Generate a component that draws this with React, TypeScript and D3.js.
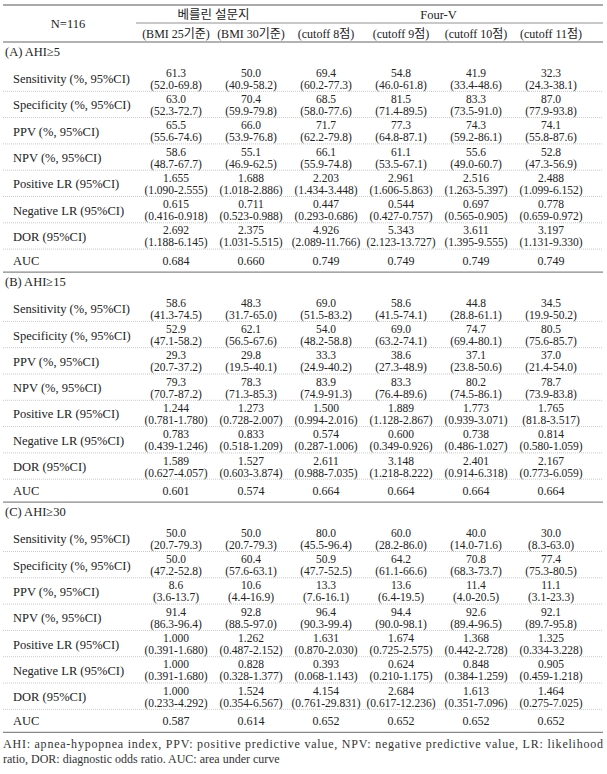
import React from "react";
import * as d3 from "d3";

// table content
const groupHeaders = ["베를린 설문지", "Four-V"];
const groupSpans = [[0, 1], [2, 5]];
const columnHeaders = ["(BMI 25기준)", "(BMI 30기준)", "(cutoff 8점)", "(cutoff 9점)", "(cutoff 10점)", "(cutoff 11점)"];
const rowLabels = [
  "Sensitivity (%, 95%CI)",
  "Specificity (%, 95%CI)",
  "PPV (%, 95%CI)",
  "NPV (%, 95%CI)",
  "Positive LR (95%CI)",
  "Negative LR (95%CI)",
  "DOR (95%CI)",
];
const sectionTitles = ["(A) AHI≥5", "(B) AHI≥15", "(C) AHI≥30"];

const estimatesA = [
  ["61.3", "50.0", "69.4", "54.8", "41.9", "32.3"],
  ["63.0", "70.4", "68.5", "81.5", "83.3", "87.0"],
  ["65.5", "66.0", "71.7", "77.3", "74.3", "74.1"],
  ["58.6", "55.1", "66.1", "61.1", "55.6", "52.8"],
  ["1.655", "1.688", "2.203", "2.961", "2.516", "2.488"],
  ["0.615", "0.711", "0.447", "0.544", "0.697", "0.778"],
  ["2.692", "2.375", "4.926", "5.343", "3.611", "3.197"],
];
const intervalsA = [
  ["52.0-69.8", "40.9-58.2", "60.2-77.3", "46.0-61.8", "33.4-48.6", "24.3-38.1"],
  ["52.3-72.7", "59.9-79.8", "58.0-77.6", "71.4-89.5", "73.5-91.0", "77.9-93.8"],
  ["55.6-74.6", "53.9-76.8", "62.2-79.8", "64.8-87.1", "59.2-86.1", "55.8-87.6"],
  ["48.7-67.7", "46.9-62.5", "55.9-74.8", "53.5-67.1", "49.0-60.7", "47.3-56.9"],
  ["1.090-2.555", "1.018-2.886", "1.434-3.448", "1.606-5.863", "1.263-5.397", "1.099-6.152"],
  ["0.416-0.918", "0.523-0.988", "0.293-0.686", "0.427-0.757", "0.565-0.905", "0.659-0.972"],
  ["1.188-6.145", "1.031-5.515", "2.089-11.766", "2.123-13.727", "1.395-9.555", "1.131-9.330"],
];
const aucA = ["0.684", "0.660", "0.749", "0.749", "0.749", "0.749"];

const estimatesB = [
  ["58.6", "48.3", "69.0", "58.6", "44.8", "34.5"],
  ["52.9", "62.1", "54.0", "69.0", "74.7", "80.5"],
  ["29.3", "29.8", "33.3", "38.6", "37.1", "37.0"],
  ["79.3", "78.3", "83.9", "83.3", "80.2", "78.7"],
  ["1.244", "1.273", "1.500", "1.889", "1.773", "1.765"],
  ["0.783", "0.833", "0.574", "0.600", "0.738", "0.814"],
  ["1.589", "1.527", "2.611", "3.148", "2.401", "2.167"],
];
const intervalsB = [
  ["41.3-74.5", "31.7-65.0", "51.5-83.2", "41.5-74.1", "28.8-61.1", "19.9-50.2"],
  ["47.1-58.2", "56.5-67.6", "48.2-58.8", "63.2-74.1", "69.4-80.1", "75.6-85.7"],
  ["20.7-37.2", "19.5-40.1", "24.9-40.2", "27.3-48.9", "23.8-50.6", "21.4-54.0"],
  ["70.7-87.2", "71.3-85.3", "74.9-91.3", "76.4-89.6", "74.5-86.1", "73.9-83.8"],
  ["0.781-1.780", "0.728-2.007", "0.994-2.016", "1.128-2.867", "0.939-3.071", "81.8-3.517"],
  ["0.439-1.246", "0.518-1.209", "0.287-1.006", "0.349-0.926", "0.486-1.027", "0.580-1.059"],
  ["0.627-4.057", "0.603-3.874", "0.988-7.035", "1.218-8.222", "0.914-6.318", "0.773-6.059"],
];
const aucB = ["0.601", "0.574", "0.664", "0.664", "0.664", "0.664"];

const estimatesC = [
  ["50.0", "50.0", "80.0", "60.0", "40.0", "30.0"],
  ["50.0", "60.4", "50.9", "64.2", "70.8", "77.4"],
  ["8.6", "10.6", "13.3", "13.6", "11.4", "11.1"],
  ["91.4", "92.8", "96.4", "94.4", "92.6", "92.1"],
  ["1.000", "1.262", "1.631", "1.674", "1.368", "1.325"],
  ["1.000", "0.828", "0.393", "0.624", "0.848", "0.905"],
  ["1.000", "1.524", "4.154", "2.684", "1.613", "1.464"],
];
const intervalsC = [
  ["20.7-79.3", "20.7-79.3", "45.5-96.4", "28.2-86.0", "14.0-71.6", "8.3-63.0"],
  ["47.2-52.8", "57.6-63.1", "47.7-52.5", "61.1-66.6", "68.3-73.7", "75.3-80.5"],
  ["3.6-13.7", "4.4-16.9", "7.6-16.1", "6.4-19.5", "4.0-20.5", "3.1-23.3"],
  ["86.3-96.4", "88.5-97.0", "90.3-99.4", "90.0-98.1", "89.4-96.5", "89.7-95.8"],
  ["0.391-1.680", "0.487-2.152", "0.870-2.030", "0.725-2.575", "0.442-2.728", "0.334-3.228"],
  ["0.391-1.680", "0.328-1.377", "0.068-1.143", "0.210-1.175", "0.384-1.259", "0.459-1.218"],
  ["0.233-4.292", "0.354-6.567", "0.761-29.831", "0.617-12.236", "0.351-7.096", "0.275-7.025"],
];
const aucC = ["0.587", "0.614", "0.652", "0.652", "0.652", "0.652"];

const footnotes = [
  "AHI: apnea-hypopnea index, PPV: positive predictive value, NPV: negative predictive value, LR: likelihood",
  "ratio, DOR: diagnostic odds ratio. AUC: area under curve",
];

const sections = [
  { title: sectionTitles[0], est: estimatesA, ci: intervalsA, auc: aucA },
  { title: sectionTitles[1], est: estimatesB, ci: intervalsB, auc: aucB },
  { title: sectionTitles[2], est: estimatesC, ci: intervalsC, auc: aucC },
];

const FONT = "'Liberation Serif', 'Noto Sans CJK KR', serif";
const INK = "#222";

export default function App() {
  const W = 607;
  const H = 774;
  const left = 3;
  const right = 603;

  // header geometry
  const topLine = 5;
  const midLine = 23;
  const headLine = 42;

  // section geometry
  const titleH = 23;
  const rowH = 26.3;
  const aucH = 23;
  const sectionH = titleH + rowH * rowLabels.length + aucH;

  const x = d3.scaleLinear().domain([0, columnHeaders.length - 1]).range([176, 551]);
  const ySection = d3
    .scaleLinear()
    .domain([0, 1])
    .range([headLine, headLine + sectionH]);

  const tableBottom = ySection(sections.length);

  return (
    <svg
      width={W}
      height={H}
      style={{ position: "absolute", left: 0, top: 0, background: "#fff" }}
      fontFamily={FONT}
    >
      <rect width={W} height={H} fill="#fff" />

      {/* header */}
      <line x1={left} x2={right} y1={topLine} y2={topLine} stroke="#555" strokeWidth={1} />
      <line x1={136} x2={right} y1={midLine} y2={midLine} stroke="#777" strokeWidth={0.8} />
      <line x1={left} x2={right} y1={headLine} y2={headLine} stroke="#999" strokeWidth={1.6} />
      <text x={68} y={(topLine + headLine) / 2} fontSize={12.5} fill={INK} textAnchor="middle" dominantBaseline="central">
        N=116
      </text>
      {groupHeaders.map((g, i) => (
        <text
          key={g}
          x={(x(groupSpans[i][0]) + x(groupSpans[i][1])) / 2}
          y={(topLine + midLine) / 2 + 1}
          fontSize={12.5}
          fill={INK}
          textAnchor="middle"
          dominantBaseline="central"
        >
          {g}
        </text>
      ))}
      {columnHeaders.map((c, i) => (
        <text
          key={c}
          x={x(i)}
          y={(midLine + headLine) / 2 + 1}
          fontSize={12}
          fill={INK}
          textAnchor="middle"
          dominantBaseline="central"
        >
          {c}
        </text>
      ))}

      {sections.map((s, si) => {
        const top = ySection(si);
        const bodyTop = top + titleH;
        const y = d3
          .scaleBand()
          .domain(rowLabels)
          .range([bodyTop, bodyTop + rowH * rowLabels.length]);
        const aucTop = bodyTop + rowH * rowLabels.length;
        const bottom = ySection(si + 1);
        return (
          <g key={s.title}>
            <text x={5} y={top + titleH / 2 - 1.5} fontSize={12.5} fill={INK} dominantBaseline="central">
              {s.title}
            </text>
            {rowLabels.map((label, ri) => {
              const y0 = y(label) as number;
              const cy = y0 + y.bandwidth() / 2;
              return (
                <g key={label}>
                  <text x={13} y={cy + 1} fontSize={12.5} fill={INK} dominantBaseline="central">
                    {label}
                  </text>
                  {s.est[ri].map((v, ci) => (
                    <g key={ci}>
                      <text x={x(ci)} y={cy - 5.5} fontSize={11.5} fill={INK} textAnchor="middle" dominantBaseline="central">
                        {v}
                      </text>
                      <text x={x(ci)} y={cy + 6.5} fontSize={11.5} fill={INK} textAnchor="middle" dominantBaseline="central">
                        {`(${s.ci[ri][ci]})`}
                      </text>
                    </g>
                  ))}
                  <line
                    x1={left}
                    x2={right}
                    y1={y0 + y.bandwidth()}
                    y2={y0 + y.bandwidth()}
                    stroke="#bbb"
                    strokeWidth={0.8}
                    strokeDasharray="1,1"
                  />
                </g>
              );
            })}
            <text x={13} y={aucTop + aucH / 2} fontSize={12.5} fill={INK} dominantBaseline="central">
              AUC
            </text>
            {s.auc.map((v, ci) => (
              <text key={ci} x={x(ci)} y={aucTop + aucH / 2} fontSize={12} fill={INK} textAnchor="middle" dominantBaseline="central">
                {v}
              </text>
            ))}
            <line x1={left} x2={right} y1={bottom} y2={bottom} stroke="#888" strokeWidth={1.2} />
          </g>
        );
      })}

      {/* footnote */}
      <text
        x={left}
        y={tableBottom + 12}
        fontSize={12}
        fill="#333"
        dominantBaseline="central"
        textLength={right - left}
        lengthAdjust="spacing"
      >
        {footnotes[0]}
      </text>
      <text x={left} y={tableBottom + 27} fontSize={12} fill="#333" dominantBaseline="central">
        {footnotes[1]}
      </text>
    </svg>
  );
}
